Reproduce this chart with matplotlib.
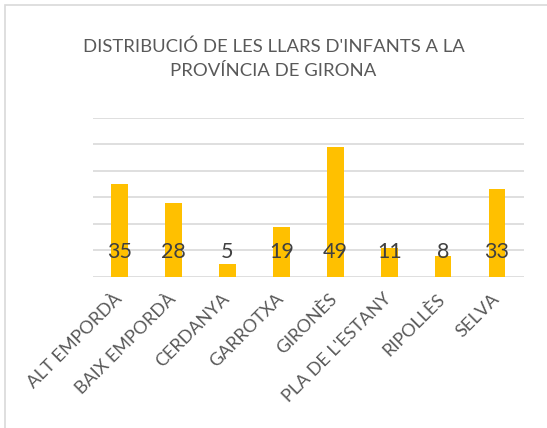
import matplotlib.pyplot as plt
import matplotlib.transforms as mtransforms
from matplotlib.patches import Rectangle

comarques = ['ALT EMPORDÀ', 'BAIX EMPORDÀ', 'CERDANYA', 'GARROTXA', 'GIRONÈS',
             "PLA DE L'ESTANY", 'RIPOLLÈS', 'SELVA']
llars = [35, 28, 5, 19, 49, 11, 8, 33]
yticks = [0, 10, 20, 30, 40, 50, 60]

plt.rcParams['font.family'] = ['Lato', 'DejaVu Sans']
txt = '#595959'

fig = plt.figure(figsize=(5.47, 4.28), dpi=100)
ax = fig.add_axes([92.7 / 547, 1 - 277 / 428, (524 - 92.7) / 547, (277 - 117.7) / 428])

# border of the chart area (only top/left visible in the reference)
fig.patches.append(Rectangle((5 / 547, -0.1), 1.2, (428 - 5) / 428 + 0.1,
                             transform=fig.transFigure, fill=False,
                             edgecolor='#d9d9d9', linewidth=1.2))

x = range(len(comarques))
ax.bar(x, llars, width=0.31, color='#FFC000', zorder=3)
for i, v in enumerate(llars):
    ax.text(i, 9.3, str(v), ha='center', va='center', fontsize=15.5, color='#404040', zorder=4)

ax.set_xlim(-0.5, len(comarques) - 0.5)
ax.set_ylim(0, 60)
ax.set_yticks(yticks)
ax.set_yticklabels([])
ax.yaxis.grid(True, color='#d9d9d9', linewidth=1.2)
ax.tick_params(length=0)
for s in ax.spines.values():
    s.set_visible(False)
ax.set_xticks(list(x))
ax.set_xticklabels(comarques, rotation=45, ha='right', rotation_mode='anchor',
                   fontsize=13, color=txt)
ax.tick_params(axis='x', pad=10)
shift = mtransforms.ScaledTranslation(-6 / 100, 0, fig.dpi_scale_trans)
for lab in ax.get_xticklabels():
    lab.set_transform(lab.get_transform() + shift)

fig.text(0.5, 1 - 59 / 428, "DISTRIBUCIÓ DE LES LLARS D'INFANTS A LA\nPROVÍNCIA DE GIRONA",
         ha='center', va='center', fontsize=13.3, color=txt, linespacing=1.6)

fig.savefig('out.png', dpi=100)
